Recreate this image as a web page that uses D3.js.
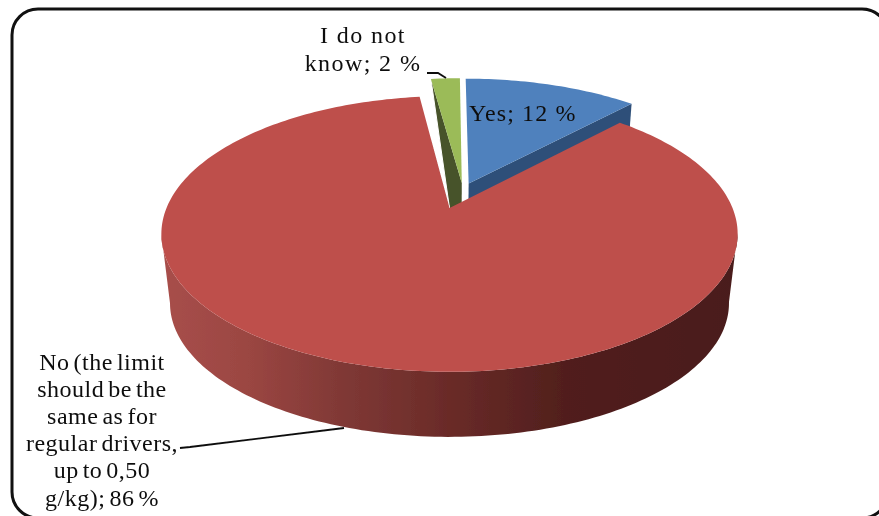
<!DOCTYPE html>
<html>
<head>
<meta charset="utf-8">
<script src="https://cdn.jsdelivr.net/npm/d3@7"></script>
<style>
html,body{margin:0;padding:0;background:#fff;overflow:hidden}
svg{display:block}
text{font-family:"Liberation Serif",serif;fill:#111}
</style>
</head>
<body>
<svg id="c" width="879" height="516"></svg>
<script>
const categories = ["Yes", "No", "I do not know"];
const values = [12, 86, 2];
const topColors = ["#4f81bd", "#be4f4c", "#9bbb59"];
const wallColors = ["#2f5079", "#7a3633", "#47522a"];
const labelLinesYes = ["Yes; 12 %"];
const labelLinesNo = ["No (the limit", "should be the", "same as for", "regular drivers,", "up to 0,50", "g/kg); 86 %"];
const labelLinesDk = ["I do not", "know; 2 %"];
const explodeU = [0.07, 0, 0.045];
const explodeV = [-0.19, 0, -0.195];

const svg = d3.select("#c");
const defs = svg.append("defs");
const grad = defs.append("linearGradient").attr("id","wall").attr("gradientUnits","userSpaceOnUse")
  .attr("x1",161).attr("x2",737).attr("y1",0).attr("y2",0);
[[0,"#a84f4b"],[0.15,"#9b4642"],[0.32,"#7f3835"],[0.5,"#6a2b28"],[0.7,"#511f1d"],[1,"#4a1c1a"]]
  .forEach(s=>grad.append("stop").attr("offset",s[0]).attr("stop-color",s[1]));
const blur = defs.append("filter").attr("id","soft").attr("x","-5%").attr("y","-5%").attr("width","110%").attr("height","110%");
blur.append("feGaussianBlur").attr("stdDeviation",0.5);

// frame
svg.append("rect").attr("x",12).attr("y",9).attr("width",876).attr("height",509).attr("rx",26)
  .attr("fill","#fff").attr("stroke","#111").attr("stroke-width",3);

// perspective projection of the unit disk
const k = 0.188, A = 283, B = 133, cx = 449.5, cy = 208, drop = 70, shrink = 0.97;
function P(u, v, bottom){
  const s = bottom ? shrink : 1, w = 1 - k*v;
  return [cx + A*s*u/w, cy + (bottom?drop:0) + B*s*v/w];
}
const pie = d3.pie().sort(null).startAngle(0).endAngle(2*Math.PI);
const arcs = pie(values);
const line = d3.line();
const g = svg.append("g").attr("filter","url(#soft)");

function arcPts(i, a0, a1, bottom){
  const n = Math.max(2, Math.ceil((a1-a0)/0.02));
  return d3.range(n+1).map(j=>{
    const t = a0 + (a1-a0)*j/n;
    return P(explodeU[i]+Math.sin(t), explodeV[i]-Math.cos(t), bottom);
  });
}
const apex = (i,b)=>P(explodeU[i],explodeV[i],b);
const corner = (i,t,b)=>P(explodeU[i]+Math.sin(t),explodeV[i]-Math.cos(t),b);
const topPath = i => line([apex(i,false), ...arcPts(i,arcs[i].startAngle,arcs[i].endAngle,false)])+"Z";

// cut face of "Yes"
g.append("path").attr("fill",wallColors[0])
  .attr("d",line([apex(0,false),corner(0,arcs[0].endAngle,false),corner(0,arcs[0].endAngle,true),apex(0,true)])+"Z");
// cut face of "I do not know"
g.append("path").attr("fill",wallColors[2])
  .attr("d",line([corner(2,arcs[2].startAngle,false),apex(2,false),apex(2,true),corner(2,arcs[2].startAngle,true)])+"Z");
// white gap beside the large slice
g.append("path").attr("fill","#fff").attr("stroke","#fff").attr("stroke-width",1)
  .attr("d",line([corner(2,arcs[2].startAngle,false),apex(1,false),corner(1,arcs[1].endAngle,false),[corner(1,arcs[1].endAngle,false)[0]-40,corner(2,arcs[2].startAngle,false)[1]-6]])+"Z");
// top faces of small slices
[0,2].forEach(i=>g.append("path").attr("fill",topColors[i]).attr("d",topPath(i)));

// front wall of the large slice, between its left and right silhouette points
const all = arcPts(1,arcs[1].startAngle,arcs[1].endAngle,false);
const iR = d3.scan(all,(a,b)=>b[0]-a[0]), iL = d3.scan(all,(a,b)=>a[0]-b[0]);
const front = d3.range(iR,iL+1);
const step = (arcs[1].endAngle-arcs[1].startAngle)/(all.length-1);
const botPts = front.map(j=>{
  const t = arcs[1].startAngle+j*step;
  return corner(1,t,true);
});
g.append("path").attr("fill","url(#wall)")
  .attr("d",line([...front.map(j=>all[j]),...botPts.reverse()])+"Z");
g.append("path").attr("fill",topColors[1]).attr("d",topPath(1));

// leader lines
const curve = d3.line();
g.append("path").attr("fill","none").attr("stroke","#111").attr("stroke-width",1.8)
  .attr("d",curve([[427,73],[438,73],[446,78]]));
g.append("path").attr("fill","none").attr("stroke","#111").attr("stroke-width",1.8)
  .attr("d",curve([[180,448],[190,447],[344,428]]));

// labels
const t = svg.append("g").attr("filter","url(#soft)").attr("font-size",24);
function block(lines, x, y0, dy, anchor, ls, ws){
  t.selectAll(null).data(lines).enter().append("text")
    .attr("x",x).attr("y",(d,i)=>y0+i*dy).attr("text-anchor",anchor)
    .attr("letter-spacing",ls).attr("word-spacing",ws).text(d=>d);
}
block(labelLinesDk, 363, 43, 28, "middle", 1.4, 0);
block(labelLinesYes, 469, 121, 0, "start", 1.1, 0);
block(labelLinesNo, 102, 370, 27.1, "middle", 0.5, -2.5);
</script>
</body>
</html>
